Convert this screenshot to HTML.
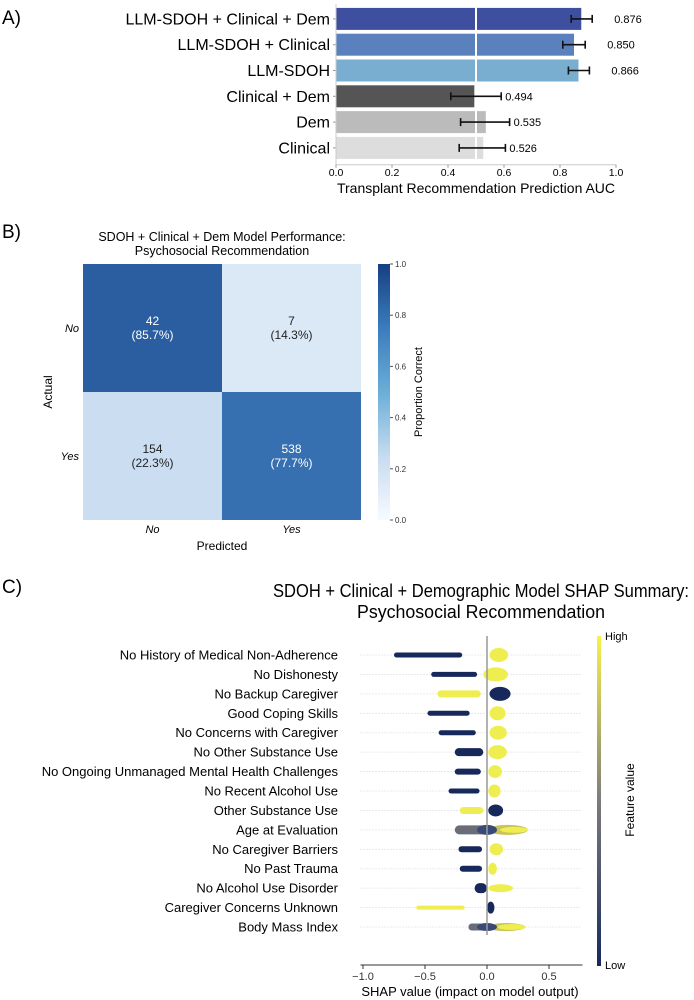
<!DOCTYPE html>
<html><head><meta charset="utf-8"><style>
html,body{margin:0;padding:0;background:#fff;}
svg{display:block;font-family:"Liberation Sans",Arial,sans-serif;}
</style></head><body>
<svg id="fig" width="694" height="1000" viewBox="0 0 694 1000">
<defs>
<linearGradient id="cmBlues" x1="0" y1="1" x2="0" y2="0">
<stop offset="0" stop-color="#f7fbff"/><stop offset="0.25" stop-color="#c6dbef"/><stop offset="0.5" stop-color="#6baed6"/><stop offset="0.75" stop-color="#3a7cbd"/><stop offset="1" stop-color="#173f82"/>
</linearGradient>
<linearGradient id="cmShap" x1="0" y1="1" x2="0" y2="0">
<stop offset="0" stop-color="#16285c"/><stop offset="0.5" stop-color="#7c7c7c"/><stop offset="1" stop-color="#f8f24a"/>
</linearGradient>
</defs>
<text x="2" y="24" font-size="19">A)</text>
<g id="pa"></g>
<text x="2" y="238" font-size="19">B)</text>
<g id="pb"></g>
<text x="2" y="593" font-size="19">C)</text>
<g id="pc"></g>
</svg>
<script>
const NS="http://www.w3.org/2000/svg";
function mk(p,t,a,txt){const e=document.createElementNS(NS,t);for(const k in a)e.setAttribute(k,a[k]);if(txt!==undefined)e.textContent=txt;p.appendChild(e);return e;}

// ---------- Panel A data ----------
const aCategories=["LLM-SDOH + Clinical + Dem","LLM-SDOH + Clinical","LLM-SDOH","Clinical + Dem","Dem","Clinical"];
const aValues=[0.876,0.850,0.866,0.494,0.535,0.526];
const aLow=[0.840,0.810,0.830,0.410,0.445,0.440];
const aHigh=[0.915,0.890,0.905,0.590,0.620,0.605];
const aColors=["#3f4fa0","#5a80bd","#79aed0","#555555","#bbbbbb","#dddddd"];
const aTicks=[0,0.2,0.4,0.6,0.8,1.0];

// ---------- Panel B data ----------
const bRows=["No","Yes"];
const bCols=["No","Yes"];
const bCounts=[[42,7],[154,538]];
const bProps=[[0.857,0.143],[0.223,0.777]];
const bTicks=[0,0.2,0.4,0.6,0.8,1.0];

// ---------- Panel C data ----------
const cFeatures=["No History of Medical Non-Adherence","No Dishonesty","No Backup Caregiver","Good Coping Skills","No Concerns with Caregiver","No Other Substance Use","No Ongoing Unmanaged Mental Health Challenges","No Recent Alcohol Use","Other Substance Use","Age at Evaluation","No Caregiver Barriers","No Past Trauma","No Alcohol Use Disorder","Caregiver Concerns Unknown","Body Mass Index"];
const cNegMin=[-0.75,-0.45,-0.40,-0.48,-0.39,-0.26,-0.26,-0.31,-0.22,-0.26,-0.23,-0.22,-0.10,-0.57,-0.15];
const cNegMax=[-0.20,-0.08,-0.05,-0.14,-0.09,-0.03,-0.05,-0.06,-0.03,0.00,-0.04,-0.04,0.00,-0.18,0.00];
const cNegColor=["low","low","high","low","low","low","low","low","high","mix","low","low","low","high","mix"];
const cPosMin=[0.02,-0.03,0.02,0.02,0.02,0.01,0.01,0.01,0.01,0.00,0.02,0.01,0.01,0.00,0.00];
const cPosMax=[0.17,0.17,0.19,0.15,0.16,0.16,0.12,0.11,0.13,0.33,0.13,0.08,0.21,0.06,0.31];
const cPosColor=["high","high","low","high","high","high","high","high","low","mixhigh","high","high","high","low","mixhigh"];
const cPosThick=[14,14,14,14,14,14,13,13,12,10,12,12,8,12,8];
const cNegThick=[5,5,7,5,5,8,6,5,7,9,6,6,10,4,7];
const cTicks=[-1.0,-0.5,0.0,0.5];

// ---------- Panel A ----------
(function(){
 const g=document.getElementById('pa');
 const x0=336,x1=616,top=6,step=25.8,bh=22;
 const sx=v=>x0+(x1-x0)*v;
 aCategories.forEach((c,i)=>{
  const cy=top+step*i+step/2;
  const r=mk(g,'rect',{x:x0,y:cy-bh/2,width:sx(aValues[i])-x0,height:bh,fill:aColors[i]});
  
  
  const t=mk(g,'text',{x:x0-6,y:cy+5.5,'text-anchor':'end','font-size':16},c);
  
  
  mk(g,'line',{x1:x0-3,x2:x0,y1:cy,y2:cy,stroke:'#999'});
 });
 mk(g,'line',{x1:sx(0.5),x2:sx(0.5),y1:top,y2:top+step*6,stroke:'#fff','stroke-width':2});
 aCategories.forEach((c,i)=>{
  const cy=top+step*i+step/2;
  const e=mk(g,'g',{stroke:'#111','stroke-width':1.6});
  
  
  mk(e,'line',{x1:sx(aLow[i]),x2:sx(aHigh[i]),y1:cy,y2:cy});
  mk(e,'line',{x1:sx(aLow[i]),x2:sx(aLow[i]),y1:cy-4,y2:cy+4});
  mk(e,'line',{x1:sx(aHigh[i]),x2:sx(aHigh[i]),y1:cy-4,y2:cy+4});
  const vt=mk(g,'text',{x:sx(aHigh[i])+(i<3?22:4),y:cy+4,'font-size':11},aValues[i].toFixed(3));
  
  
 });
 mk(g,'line',{x1:x0,x2:x0,y1:top-2,y2:top+step*6+4,stroke:'#ccc'});
 mk(g,'line',{x1:x0,x2:x1,y1:top+step*6+4,y2:top+step*6+4,stroke:'#ccc'});
 aTicks.forEach(v=>{
  mk(g,'line',{x1:sx(v),x2:sx(v),y1:top+step*6+4,y2:top+step*6+7,stroke:'#999'});
  const t=mk(g,'text',{x:sx(v),y:176,'text-anchor':'middle','font-size':10.5},v.toFixed(1));
  
  
 });
 const xl=mk(g,'text',{x:476,y:193,'text-anchor':'middle','font-size':14},'Transplant Recommendation Prediction AUC');
 
 
})();

// ---------- Panel B ----------
(function(){
 const g=document.getElementById('pb');
 const X0=83,Y0=264,W=139,H=128;
 function blues(v){
  const stops=[[0,[247,251,255]],[0.25,[198,219,239]],[0.5,[107,174,214]],[0.75,[58,118,182]],[1,[23,63,130]]];
  for(let i=1;i<stops.length;i++){if(v<=stops[i][0]){const a=stops[i-1],b=stops[i],t=(v-a[0])/(b[0]-a[0]);return 'rgb('+a[1].map((c,k)=>Math.round(c+(b[1][k]-c)*t)).join(',')+')';}}
  return 'rgb(23,63,130)';
 }
 bRows.forEach((r,i)=>{bCols.forEach((c,j)=>{
  const x=X0+W*j,y=Y0+H*i,p=bProps[i][j];
  const cell=mk(g,'rect',{x:x,y:y,width:W,height:H,fill:blues(p)});
  
  
  const col=p>0.5?'#fff':'#222';
  mk(g,'text',{x:x+W/2,y:y+H/2-3,'text-anchor':'middle','font-size':12,fill:col},String(bCounts[i][j]));
  mk(g,'text',{x:x+W/2,y:y+H/2+11,'text-anchor':'middle','font-size':12,fill:col},'('+(p*100).toFixed(1)+'%)');
 });});
 bRows.forEach((r,i)=>{const t=mk(g,'text',{x:X0-4,y:Y0+H*i+H/2+4,'text-anchor':'end','font-size':11,'font-style':'italic'},r);
  });
 bCols.forEach((c,j)=>{const t=mk(g,'text',{x:X0+W*j+W/2,y:533,'text-anchor':'middle','font-size':11,'font-style':'italic'},c);
  });
 mk(g,'text',{x:222,y:550,'text-anchor':'middle','font-size':12},'Predicted');
 mk(g,'text',{x:0,y:0,'text-anchor':'middle','font-size':12,transform:'translate(52,392) rotate(-90)'},'Actual');
 mk(g,'text',{x:222,y:241,'text-anchor':'middle','font-size':12.5},'SDOH + Clinical + Dem Model Performance:');
 mk(g,'text',{x:222,y:255,'text-anchor':'middle','font-size':12.5},'Psychosocial Recommendation');
 const cb=mk(g,'rect',{x:378,y:Y0,width:12,height:256,fill:'url(#cmBlues)'});
 
 bTicks.forEach(v=>{const y=Y0+256*(1-v);
  mk(g,'line',{x1:390,x2:393,y1:y,y2:y,stroke:'#555'});
  mk(g,'text',{x:395,y:y+3,'font-size':8,fill:'#333'},v.toFixed(1));});
 mk(g,'text',{x:0,y:0,'text-anchor':'middle','font-size':11,transform:'translate(422,392) rotate(-90)'},'Proportion Correct');
})();

// ---------- Panel C ----------
(function(){
 const g=document.getElementById('pc');
 const zx=487,unit=124,ry0=655,rstep=19.43;
 const sx=v=>zx+unit*v;
 mk(g,'text',{x:481,y:597,'text-anchor':'middle','font-size':18,textLength:416,lengthAdjust:'spacingAndGlyphs'},'SDOH + Clinical + Demographic Model SHAP Summary:');
 mk(g,'text',{x:481,y:618,'text-anchor':'middle','font-size':18,textLength:248,lengthAdjust:'spacingAndGlyphs'},'Psychosocial Recommendation');
 const NAVY='#17285b',YEL='#eeee50';
 function fillFor(k){
  if(k==='low')return NAVY; if(k==='high')return YEL;
  if(k==='mix')return '#6a6d78'; return '#c9c35a';
 }
 cFeatures.forEach((f,i)=>{
  const cy=ry0+rstep*i;
  mk(g,'line',{x1:sx(-1.02),x2:sx(0.76),y1:cy,y2:cy,stroke:'#ccc','stroke-dasharray':'1,2','stroke-width':0.8});
  const t=mk(g,'text',{x:338,y:cy+4.5,'text-anchor':'end','font-size':13},f);
  
  
  const n=mk(g,'rect',{x:sx(cNegMin[i]),y:cy-cNegThick[i]/2,width:sx(cNegMax[i])-sx(cNegMin[i]),height:cNegThick[i],rx:cNegThick[i]/2,fill:fillFor(cNegColor[i])});
  
  
  const p=mk(g,'ellipse',{cx:(sx(cPosMin[i])+sx(cPosMax[i]))/2,cy:cy,rx:(sx(cPosMax[i])-sx(cPosMin[i]))/2,ry:cPosThick[i]/2,fill:fillFor(cPosColor[i])});
  
  
  if(cPosColor[i]==='mixhigh'){
   mk(g,'ellipse',{cx:sx(cPosMax[i])-14,cy:cy,rx:14,ry:3,fill:YEL});
   mk(g,'ellipse',{cx:sx(0),cy:cy,rx:10,ry:cPosThick[i]/2,fill:'#3a4a78'});
  }
 });
 mk(g,'line',{x1:zx,x2:zx,y1:636,y2:935,stroke:'#999','stroke-width':1.5});
 mk(g,'line',{x1:sx(-1.02),x2:sx(0.77),y1:965,y2:965,stroke:'#333'});
 cTicks.forEach(v=>{
  mk(g,'line',{x1:sx(v),x2:sx(v),y1:965,y2:969,stroke:'#333'});
  const t=mk(g,'text',{x:sx(v),y:980,'text-anchor':'middle','font-size':11,fill:'#333'},v===0?'0.0':v.toFixed(1).replace('-','\u2212'));
  
  
 });
 mk(g,'text',{x:470,y:996,'text-anchor':'middle','font-size':13},'SHAP value (impact on model output)');
 const cb=mk(g,'rect',{x:597,y:636,width:4,height:330,fill:'url(#cmShap)'});
 
 
 mk(g,'text',{x:605,y:640,'font-size':11},'High');
 mk(g,'text',{x:605,y:969,'font-size':11},'Low');
 mk(g,'text',{x:0,y:0,'text-anchor':'middle','font-size':12,transform:'translate(634,800) rotate(-90)'},'Feature value');
})();
</script>
</body></html>
